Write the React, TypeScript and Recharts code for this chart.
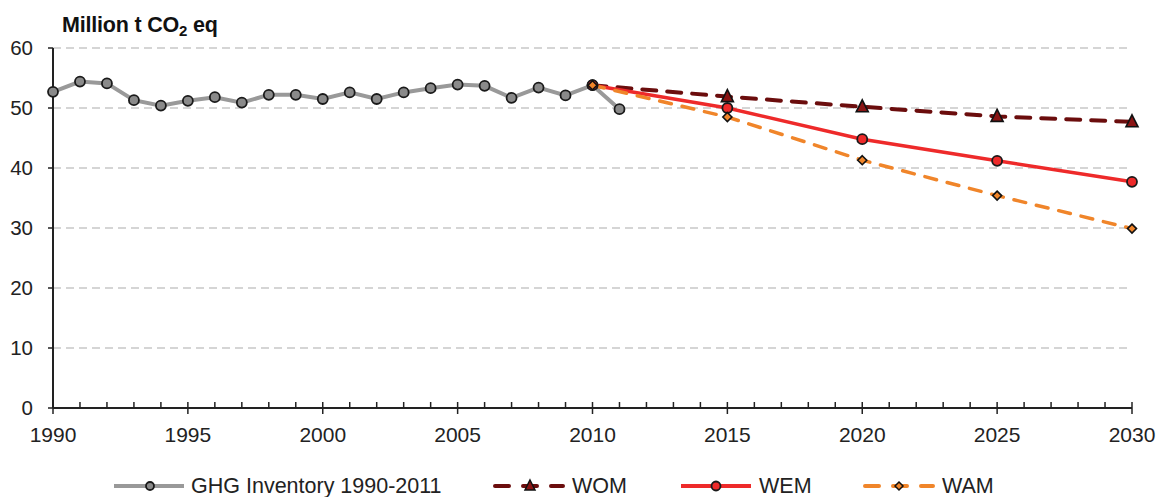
import React from 'react';
import { LineChart, Line, XAxis, YAxis, CartesianGrid } from 'recharts';

const inventoryYears = [1990, 1991, 1992, 1993, 1994, 1995, 1996, 1997, 1998, 1999, 2000, 2001, 2002, 2003, 2004, 2005, 2006, 2007, 2008, 2009, 2010, 2011];
const inventoryValues = [52.7, 54.4, 54.1, 51.3, 50.4, 51.2, 51.8, 50.9, 52.2, 52.2, 51.5, 52.6, 51.5, 52.6, 53.3, 53.9, 53.7, 51.7, 53.4, 52.1, 53.8, 49.8];
const projectionYears = [2010, 2015, 2020, 2025, 2030];
const womValues = [53.8, 51.9, 50.2, 48.6, 47.7];
const wemValues = [53.8, 50.0, 44.8, 41.2, 37.7];
const wamValues = [53.8, 48.5, 41.3, 35.4, 29.9];
const yTicks = [0, 10, 20, 30, 40, 50, 60];
const xLabelYears = [1990, 1995, 2000, 2005, 2010, 2015, 2020, 2025, 2030];
const seriesNames = ['GHG Inventory 1990-2011', 'WOM', 'WEM', 'WAM'];

const FONT = '"Liberation Sans", Arial, sans-serif';
const COL_GHG = '#999999';
const COL_GHG_DOT = '#8a8a8a';
const COL_WOM = '#6b0d0d';
const COL_WOM_DOT = '#8a1414';
const COL_WEM = '#ee2a2a';
const COL_WAM = '#f0852a';

const minorYears: number[] = [];
for (let y = xLabelYears[0]; y <= xLabelYears[xLabelYears.length - 1]; y++) minorYears.push(y);

const inventoryData = inventoryYears.map((year, i) => ({ year, value: inventoryValues[i] }));
const womData = projectionYears.map((year, i) => ({ year, value: womValues[i] }));
const wemData = projectionYears.map((year, i) => ({ year, value: wemValues[i] }));
const wamData = projectionYears.map((year, i) => ({ year, value: wamValues[i] }));

const CircleDot = (fill: string) => (props: any) => {
  const { cx, cy, index } = props;
  if (cx == null || cy == null) return <g key={index} />;
  return <circle key={index} cx={cx} cy={cy} r={5} fill={fill} stroke="#1a1a1a" strokeWidth={1.8} />;
};

const TriangleDot = (props: any) => {
  const { cx, cy, index } = props;
  if (cx == null || cy == null || index === 0) return <g key={index} />;
  const s = 6;
  return (
    <path
      key={index}
      d={`M${cx},${cy - s - 1} L${cx + s},${cy + s - 1} L${cx - s},${cy + s - 1} Z`}
      fill={COL_WOM_DOT}
      stroke="#111"
      strokeWidth={1.6}
    />
  );
};

const DiamondDot = (props: any) => {
  const { cx, cy, index } = props;
  if (cx == null || cy == null) return <g key={index} />;
  const s = 4.5;
  return (
    <path
      key={index}
      d={`M${cx},${cy - s} L${cx + s},${cy} L${cx},${cy + s} L${cx - s},${cy} Z`}
      fill={COL_WAM}
      stroke="#111"
      strokeWidth={1.6}
    />
  );
};

const XTick = (props: any) => {
  const { x, y, payload } = props;
  const v = payload.value as number;
  const major = v % 5 === 0;
  return (
    <g>
      <line x1={x} x2={x} y1={y - 6} y2={major ? y + 6 : y} stroke="#222" strokeWidth={1.5} />
      {major && (
        <text x={x} y={y + 34} textAnchor="middle" fontSize={21} fontFamily={FONT} fill="#222">
          {v}
        </text>
      )}
    </g>
  );
};

const YTick = (props: any) => {
  const { x, y, payload } = props;
  return (
    <text x={x} y={y} dy="0.355em" textAnchor="end" fontSize={20.5} fontFamily={FONT} fill="#222">
      {payload.value}
    </text>
  );
};

const LegendSample = ({ kind }: { kind: number }) => {
  if (kind === 0) {
    return (
      <svg width={72} height={20}>
        <line x1={1} x2={71} y1={10} y2={10} stroke={COL_GHG} strokeWidth={4} />
        <circle cx={37} cy={10} r={4} fill={COL_GHG_DOT} stroke="#1a1a1a" strokeWidth={1.8} />
      </svg>
    );
  }
  if (kind === 1) {
    return (
      <svg width={72} height={20}>
        <line x1={2} x2={70} y1={10} y2={10} stroke={COL_WOM} strokeWidth={4} strokeDasharray="14 14" strokeLinecap="round" />
        <path d="M37,4 L42,14 L32,14 Z" fill={COL_WOM_DOT} stroke="#111" strokeWidth={1.5} />
      </svg>
    );
  }
  if (kind === 2) {
    return (
      <svg width={72} height={20}>
        <line x1={1} x2={71} y1={10} y2={10} stroke={COL_WEM} strokeWidth={4} />
        <circle cx={36} cy={10} r={4.5} fill={COL_WEM} stroke="#1a1a1a" strokeWidth={1.8} />
      </svg>
    );
  }
  return (
    <svg width={72} height={20}>
      <line x1={2} x2={70} y1={10} y2={10} stroke={COL_WAM} strokeWidth={4} strokeDasharray="14 14" strokeLinecap="round" />
      <path d="M36,6 L40,10 L36,14 L32,10 Z" fill={COL_WAM} stroke="#111" strokeWidth={1.5} />
    </svg>
  );
};

const legendLefts = [113, 493, 680, 863];
const legendTextGaps = [6, 7, 7, 7];

export default function App() {
  return (
    <div style={{ position: 'absolute', left: 0, top: 0, width: 1161, height: 497, background: '#fff', fontFamily: FONT }}>
      <LineChart
        width={1161}
        height={497}
        margin={{ top: 48, right: 29, left: 0, bottom: 49 }}
      >
        <CartesianGrid
          vertical={false}
          stroke="#c8c8c8"
          strokeWidth={1.5}
          strokeDasharray="8 5"
        />
        <XAxis
          dataKey="year"
          type="number"
          domain={[1990, 2030]}
          ticks={minorYears}
          interval={0}
          height={40}
          axisLine={{ stroke: '#222', strokeWidth: 2 }}
          tickLine={false}
          tickSize={0}
          tickMargin={0}
          tick={<XTick />}
          allowDuplicatedCategory={false}
        />
        <YAxis
          type="number"
          domain={[0, 60]}
          ticks={yTicks}
          interval={0}
          width={53}
          axisLine={{ stroke: '#222', strokeWidth: 2 }}
          tickLine={{ stroke: '#222', strokeWidth: 1.5 }}
          tickSize={5}
          tickMargin={15}
          tick={<YTick />}
        />
        <Line
          data={inventoryData}
          dataKey="value"
          name={seriesNames[0]}
          stroke={COL_GHG}
          strokeWidth={4}
          dot={CircleDot(COL_GHG_DOT)}
          isAnimationActive={false}
        />
        <Line
          data={womData}
          dataKey="value"
          name={seriesNames[1]}
          stroke={COL_WOM}
          strokeWidth={4}
          strokeDasharray="14 11"
          strokeLinecap="round"
          dot={TriangleDot}
          isAnimationActive={false}
        />
        <Line
          data={wemData}
          dataKey="value"
          name={seriesNames[2]}
          stroke={COL_WEM}
          strokeWidth={3.5}
          dot={CircleDot(COL_WEM)}
          isAnimationActive={false}
        />
        <Line
          data={wamData}
          dataKey="value"
          name={seriesNames[3]}
          stroke={COL_WAM}
          strokeWidth={3.5}
          strokeDasharray="12 11"
          strokeLinecap="round"
          dot={DiamondDot}
          isAnimationActive={false}
        />
      </LineChart>
      <div
        style={{
          position: 'absolute',
          left: 62,
          top: 14,
          fontSize: 21.5,
          fontWeight: 'bold',
          lineHeight: '22px',
          color: '#111',
          whiteSpace: 'nowrap',
          letterSpacing: -0.2,
        }}
      >
        Million t CO<sub style={{ fontSize: 15, verticalAlign: 'baseline', position: 'relative', top: 4 }}>2</sub> eq
      </div>
      {seriesNames.map((name, i) => (
        <div
          key={name}
          style={{
            position: 'absolute',
            left: legendLefts[i],
            top: 475,
            height: 22,
            display: 'flex',
            alignItems: 'center',
            whiteSpace: 'nowrap',
          }}
        >
          <LegendSample kind={i} />
          <span style={{ marginLeft: legendTextGaps[i], fontSize: 21.5, color: '#222', lineHeight: '22px' }}>{name}</span>
        </div>
      ))}
    </div>
  );
}
